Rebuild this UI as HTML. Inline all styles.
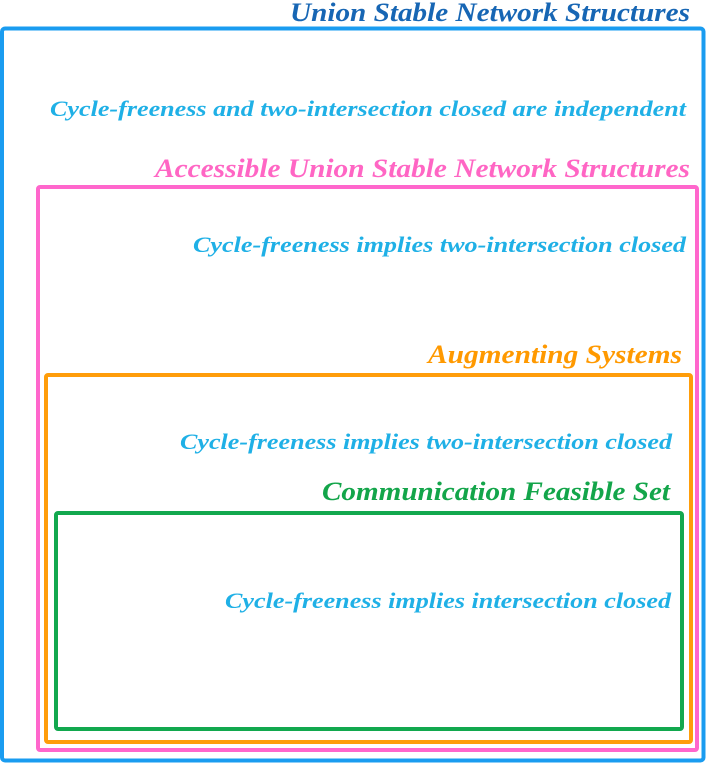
<!DOCTYPE html>
<html><head><meta charset="utf-8"><style>
html,body{margin:0;padding:0;background:#fff;}
svg{display:block;}
text{font-family:"Liberation Serif",serif;font-weight:bold;font-style:italic;}
</style></head><body>
<svg width="706" height="763" viewBox="0 0 706 763" xmlns="http://www.w3.org/2000/svg">
<rect x="2" y="28.5" width="701.5" height="732" rx="3" fill="none" stroke="#1a9cf0" stroke-width="4"/>
<rect x="38" y="187" width="659" height="563" rx="2" fill="none" stroke="#ff66cc" stroke-width="4"/>
<rect x="46" y="375" width="645" height="367" rx="2" fill="none" stroke="#ff9d0a" stroke-width="4"/>
<rect x="56" y="513" width="626" height="216" rx="2" fill="none" stroke="#12a84e" stroke-width="4"/>

<text x="290" y="21" font-size="26" fill="#1766b4" textLength="400" lengthAdjust="spacingAndGlyphs">Union Stable Network Structures</text>
<text x="50" y="116" font-size="22" fill="#1fb0e6" textLength="636" lengthAdjust="spacingAndGlyphs">Cycle-freeness and two-intersection closed are independent</text>
<text x="155" y="177" font-size="26" fill="#ff66c4" textLength="535" lengthAdjust="spacingAndGlyphs">Accessible Union Stable Network Structures</text>
<text x="193" y="252" font-size="22" fill="#1fb0e6" textLength="493" lengthAdjust="spacingAndGlyphs">Cycle-freeness implies two-intersection closed</text>
<text x="428" y="363" font-size="26" fill="#ff9900" textLength="254" lengthAdjust="spacingAndGlyphs">Augmenting Systems</text>
<text x="180" y="449" font-size="22" fill="#1fb0e6" textLength="492" lengthAdjust="spacingAndGlyphs">Cycle-freeness implies two-intersection closed</text>
<text x="322" y="500" font-size="26" fill="#13a54a" textLength="348" lengthAdjust="spacingAndGlyphs">Communication Feasible Set</text>
<text x="225" y="608" font-size="22" fill="#1fb0e6" textLength="446" lengthAdjust="spacingAndGlyphs">Cycle-freeness implies intersection closed</text>
</svg>
</body></html>
